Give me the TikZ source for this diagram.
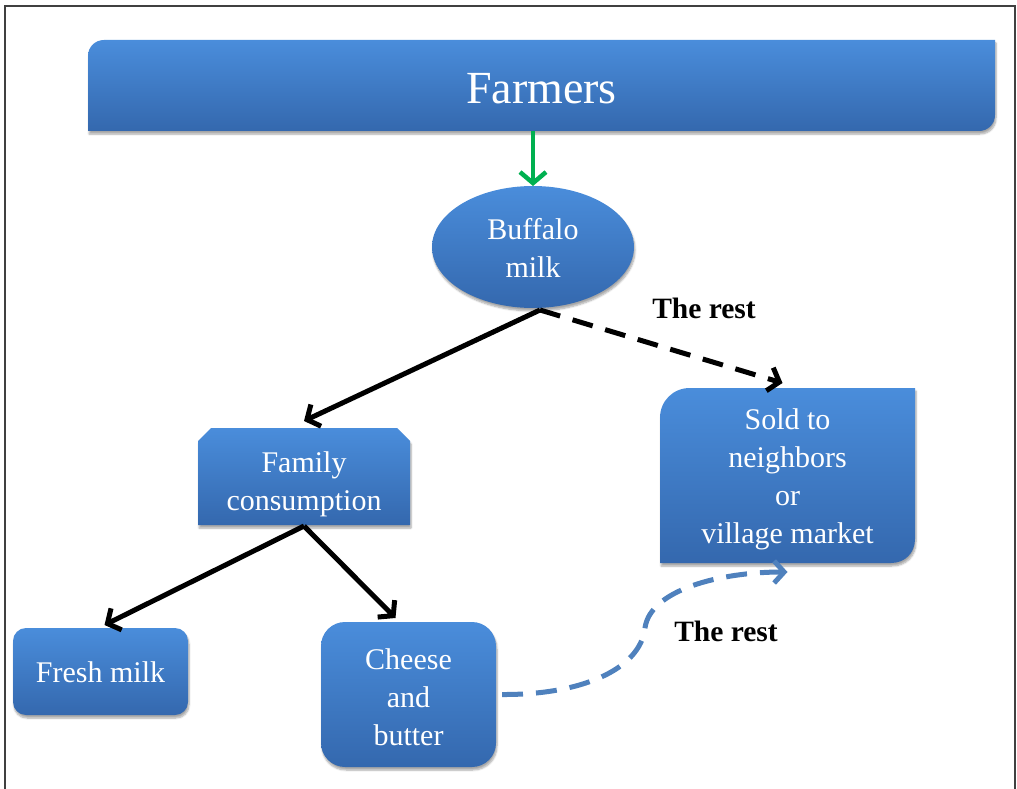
\documentclass[tikz,border=0pt]{standalone}
\usepackage{fontspec}
\setmainfont{Liberation Serif}
\usetikzlibrary{arrows.meta,shapes.geometric,calc,backgrounds,shadows.blur}
\definecolor{boxtop}{RGB}{74,141,219}
\definecolor{boxbot}{RGB}{52,104,174}
\definecolor{arrgreen}{RGB}{0,176,80}
\definecolor{arrblue}{RGB}{79,129,189}
\begin{document}
\begin{tikzpicture}[x=1pt,y=-1pt,
  box/.style={inner sep=0pt,outer sep=0pt},
  txt/.style={text=white,font=\fontsize{30}{38}\selectfont,align=center,inner sep=0pt,outer sep=0pt},
  fillshade/.style={top color=boxtop,bottom color=boxbot,
    blur shadow={shadow xshift=1pt,shadow yshift=-3pt,shadow opacity=35,shadow blur steps=6}},
  arr/.style={line width=5pt,-{Straight Barb[length=10pt,width=24pt]}},
  greenarr/.style={line width=4.5pt,arrgreen,-{Straight Barb[length=11pt,width=26pt]}},
  bluearr/.style={line width=5pt,arrblue,dash pattern=on 21pt off 13pt,-{Straight Barb[length=10pt,width=22pt]}},
  rest/.style={font=\bfseries\fontsize{29.5}{32}\selectfont,inner sep=0pt}]
\useasboundingbox (0,0) rectangle (1017,789);
\draw[line width=2pt,black!75] (5,789) -- (5,6) -- (1015,6) -- (1015,789);

% box geometry
\node[box,minimum width=907pt,minimum height=91pt] (farm) at (541.5,85.5) {};
\node[txt,ellipse,minimum width=202pt,minimum height=122pt,fillshade] (buff) at (533,247) {};
\node[box,minimum width=212pt,minimum height=97pt] (fam) at (304,476.5) {};
\node[box,minimum width=255pt,minimum height=175pt] (sold) at (787.5,475.5) {};
\node[box,minimum width=175pt,minimum height=87pt] (fresh) at (100.5,671.5) {};
\node[box,minimum width=175pt,minimum height=145pt] (cheese) at (408.5,694.5) {};

\begin{scope}[on background layer]
  \path[fillshade] (farm.south west) -- ([yshift=-16pt]farm.north west)
    .. controls ([yshift=-7pt]farm.north west) and ([xshift=7pt]farm.north west) .. ([xshift=16pt]farm.north west)
    -- (farm.north east) -- ([yshift=16pt]farm.south east)
    .. controls ([yshift=7pt]farm.south east) and ([xshift=-7pt]farm.south east) .. ([xshift=-16pt]farm.south east) -- cycle;
  \path[fillshade] (fam.south west) -- ([yshift=-13pt]fam.north west) -- ([xshift=13pt]fam.north west)
    -- ([xshift=-13pt]fam.north east) -- ([yshift=-13pt]fam.north east) -- (fam.south east) -- cycle;
  \path[fillshade] (sold.south west) -- ([yshift=-30pt]sold.north west)
    .. controls ([yshift=-13pt]sold.north west) and ([xshift=13pt]sold.north west) .. ([xshift=30pt]sold.north west)
    -- (sold.north east) -- ([yshift=24pt]sold.south east)
    .. controls ([yshift=10pt]sold.south east) and ([xshift=-10pt]sold.south east) .. ([xshift=-24pt]sold.south east) -- cycle;
  \path[fillshade,rounded corners=13pt] (fresh.south west) rectangle (fresh.north east);
  \path[fillshade,rounded corners=24pt] (cheese.south west) rectangle (cheese.north east);
\end{scope}

% texts
\node[txt,font=\fontsize{46}{50}\selectfont] (farmt) at ([yshift=-3pt]farm.center) {Farmers};
\node[txt] (bufft) at ([yshift=-1pt]buff.center) {Buffalo\\milk};
\node[txt] (famt) at ([yshift=-8pt]fam.center) {Family\\consumption};
\node[txt] (soldt) at ([yshift=-4pt]sold.center) {Sold to\\neighbors\\or\\village market};
\node[txt] (fresht) at ([yshift=-1pt]fresh.center) {Fresh milk};
\node[txt] (cheeset) at ([yshift=-3pt]cheese.center) {Cheese\\and\\butter};

% connectors
\draw[greenarr] (buff.north |- farm.south) -- (buff.north);
\coordinate (bs) at ([xshift=7pt,yshift=-2pt]buff.south);
\draw[arr] (bs) -- ([yshift=7pt]fam.north);
\draw[arr,dash pattern=on 21pt off 13pt] (bs) -- ([xshift=-5pt,yshift=5pt]sold.north);
\draw[arr] ([yshift=-1pt]fam.south) -- ([xshift=4pt,yshift=3pt]fresh.north);
\draw[arr] ([yshift=-1pt]fam.south) -- ([xshift=-13pt,yshift=4pt]cheese.north);
\coordinate (mid) at (645,628);
\draw[bluearr] ([xshift=6pt]cheese.east) .. controls (580,695) and (640,670) .. (mid)
  .. controls (650,590) and (720,572) .. ([yshift=-9pt]sold.south);

\node[rest] (r1) at (704,308) {The rest};
\node[rest] (r2) at (726,631) {The rest};
\end{tikzpicture}
\end{document}
